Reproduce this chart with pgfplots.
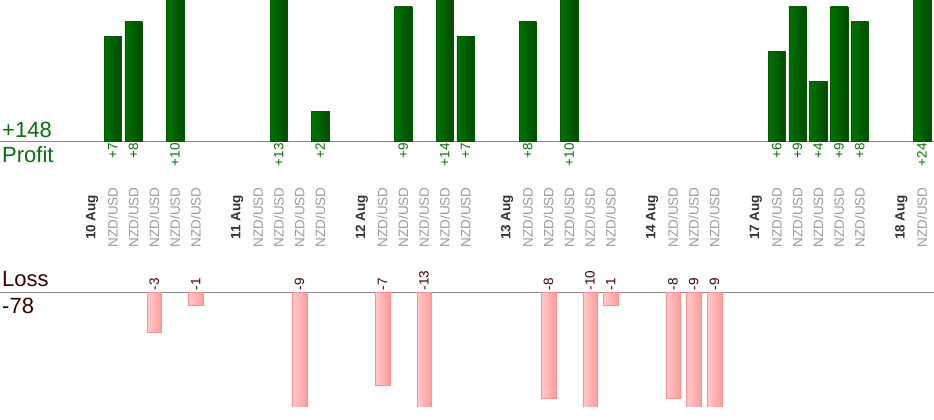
\documentclass[border=0pt]{standalone}
\usepackage{pgfplots}
\pgfplotsset{compat=1.18}
\usepackage{fontspec}
\setmainfont{Liberation Sans}
\definecolor{gL}{HTML}{007400}
\definecolor{gR}{HTML}{004A00}
\definecolor{gB}{HTML}{005A00}
\definecolor{gT}{HTML}{0A6E0A}
\definecolor{pL}{HTML}{FFCACA}
\definecolor{pR}{HTML}{FF9C9C}
\definecolor{pB}{HTML}{FF9090}
\definecolor{lT}{HTML}{3A0000}
\definecolor{baseC}{HTML}{888888}
\definecolor{nzC}{HTML}{9A9A9A}
\definecolor{dtC}{HTML}{333333}
\begin{document}
\begin{tikzpicture}[x=1pt,y=1pt]
\useasboundingbox (0pt,0pt) rectangle (934pt,420pt);
\pgfplotsset{
  base/.style={
    scale only axis, width=934pt, xmin=-4.4337, xmax=40.578,
    axis lines=none, clip=true,
    ytick=\empty, xtick=\empty,
  },
  pbar/.style={ybar, bar width=17.5pt, bar shift=0pt, draw=gB, left color=gL, right color=gR},
  lbar/.style={ybar, bar width=14.5pt, bar shift=0pt, draw=pB, left color=pL, right color=pR},
}
% Profit axis
\begin{axis}[base, at={(0pt,160pt)}, anchor=south west, height=260pt,
  ymin=-7.987, ymax=9.463]
\draw[baseC, line width=0.9pt] (axis cs:-4.4337,0) -- (axis cs:40.578,0);
\addplot[pbar] coordinates {(1,7)};
\addplot[pbar] coordinates {(2,8)};
\addplot[pbar] coordinates {(4,10)};
\addplot[pbar] coordinates {(9,13)};
\addplot[pbar] coordinates {(11,2)};
\addplot[pbar] coordinates {(15,9)};
\addplot[pbar] coordinates {(17,14)};
\addplot[pbar] coordinates {(18,7)};
\addplot[pbar] coordinates {(21,8)};
\addplot[pbar] coordinates {(23,10)};
\addplot[pbar] coordinates {(33,6)};
\addplot[pbar] coordinates {(34,9)};
\addplot[pbar] coordinates {(35,4)};
\addplot[pbar] coordinates {(36,9)};
\addplot[pbar] coordinates {(37,8)};
\addplot[pbar] coordinates {(40,24)};
\addplot[draw=none, mark=none, nodes near coords, point meta=explicit symbolic,
  every node near coord/.style={rotate=90, anchor=east, inner sep=0pt, text=gT, font=\fontsize{13.5}{14}\selectfont}]
 coordinates {(1,-0.14)[+7] (2,-0.14)[+8] (4,-0.14)[+10] (9,-0.14)[+13] (11,-0.14)[+2] (15,-0.14)[+9] (17,-0.14)[+14] (18,-0.14)[+7] (21,-0.14)[+8] (23,-0.14)[+10] (33,-0.14)[+6] (34,-0.14)[+9] (35,-0.14)[+4] (36,-0.14)[+9] (37,-0.14)[+8] (40,-0.14)[+24]};
\addplot[draw=none, mark=none, nodes near coords, point meta=explicit symbolic,
  every node near coord/.style={rotate=90, anchor=center, inner sep=0pt, text=dtC, font=\bfseries\fontsize{13.5}{14}\selectfont}]
 coordinates {(0,-5.13)[10 Aug] (7,-5.13)[11 Aug] (13,-5.13)[12 Aug] (20,-5.13)[13 Aug] (27,-5.13)[14 Aug] (32,-5.13)[17 Aug] (39,-5.13)[18 Aug]};
\addplot[draw=none, mark=none, nodes near coords, point meta=explicit symbolic,
  every node near coord/.style={rotate=90, anchor=center, inner sep=0pt, text=nzC, font=\fontsize{13.5}{14}\selectfont}]
 coordinates {(1,-5.13)[NZD/USD] (2,-5.13)[NZD/USD] (3,-5.13)[NZD/USD] (4,-5.13)[NZD/USD] (5,-5.13)[NZD/USD]
 (8,-5.13)[NZD/USD] (9,-5.13)[NZD/USD] (10,-5.13)[NZD/USD] (11,-5.13)[NZD/USD]
 (14,-5.13)[NZD/USD] (15,-5.13)[NZD/USD] (16,-5.13)[NZD/USD] (17,-5.13)[NZD/USD] (18,-5.13)[NZD/USD]
 (21,-5.13)[NZD/USD] (22,-5.13)[NZD/USD] (23,-5.13)[NZD/USD] (24,-5.13)[NZD/USD] (25,-5.13)[NZD/USD]
 (28,-5.13)[NZD/USD] (29,-5.13)[NZD/USD] (30,-5.13)[NZD/USD]
 (33,-5.13)[NZD/USD] (34,-5.13)[NZD/USD] (35,-5.13)[NZD/USD] (36,-5.13)[NZD/USD] (37,-5.13)[NZD/USD]
 (40,-5.13)[NZD/USD]};
\end{axis}
% Loss axis
\begin{axis}[base, at={(0pt,13pt)}, anchor=south west, height=147pt,
  ymin=-8.689, ymax=2.447]
\draw[baseC, line width=0.9pt] (axis cs:-4.4337,0) -- (axis cs:40.578,0);
\addplot[lbar] coordinates {(3,-3)};
\addplot[lbar] coordinates {(5,-1)};
\addplot[lbar] coordinates {(10,-9)};
\addplot[lbar] coordinates {(14,-7)};
\addplot[lbar] coordinates {(16,-13)};
\addplot[lbar] coordinates {(22,-8)};
\addplot[lbar] coordinates {(24,-10)};
\addplot[lbar] coordinates {(25,-1)};
\addplot[lbar] coordinates {(28,-8)};
\addplot[lbar] coordinates {(29,-9)};
\addplot[lbar] coordinates {(30,-9)};
\addplot[draw=none, mark=none, nodes near coords, point meta=explicit symbolic,
  every node near coord/.style={rotate=90, anchor=west, inner sep=0pt, text=lT, font=\fontsize{13.5}{14}\selectfont}]
 coordinates {(3,0.13)[-3] (5,0.13)[-1] (10,0.13)[-9] (14,0.13)[-7] (16,0.13)[-13] (22,0.13)[-8] (24,0.13)[-10] (25,0.13)[-1] (28,0.13)[-8] (29,0.13)[-9] (30,0.13)[-9]};
\end{axis}
% side texts
\node[anchor=base west, inner sep=0pt, text=gT, font=\fontsize{22}{24}\selectfont] at (2pt,282pt) {+148};
\node[anchor=base west, inner sep=0pt, text=gT, font=\fontsize{22}{24}\selectfont] at (2pt,257pt) {Profit};
\node[anchor=base west, inner sep=0pt, text=lT, font=\fontsize{22}{24}\selectfont] at (2pt,133pt) {Loss};
\node[anchor=base west, inner sep=0pt, text=lT, font=\fontsize{22}{24}\selectfont] at (2pt,106pt) {-78};
\end{tikzpicture}
\end{document}
